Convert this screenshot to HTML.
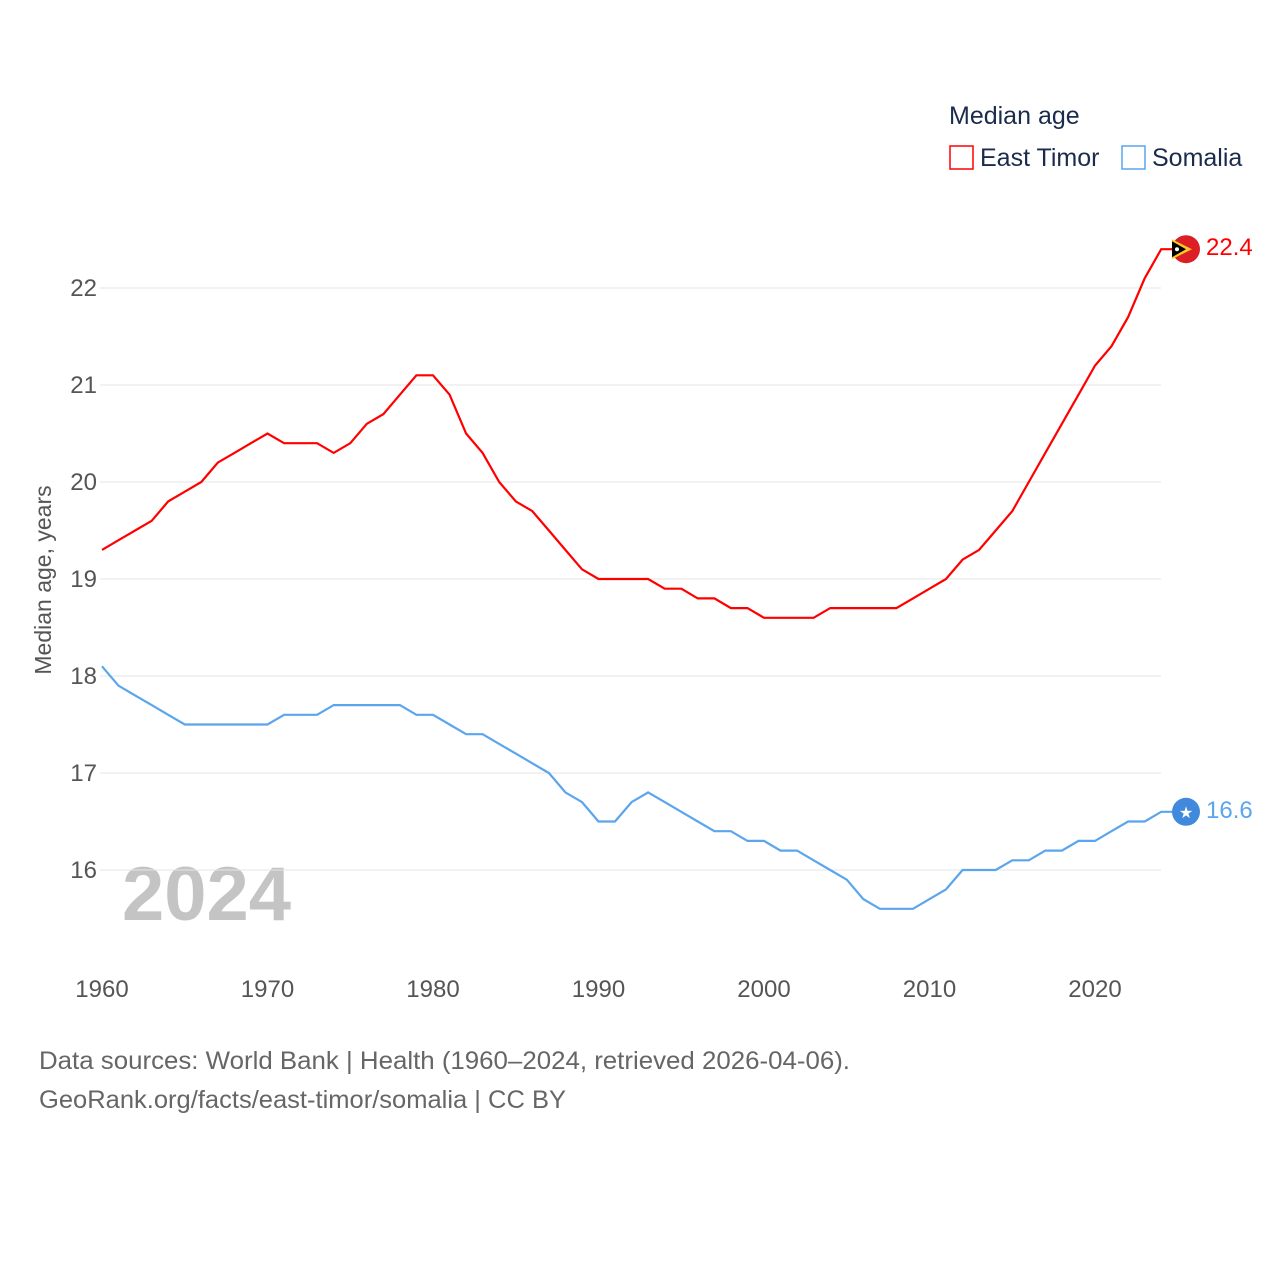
<!DOCTYPE html>
<html><head><meta charset="utf-8"><style>
body{margin:0;background:#fff;font-family:"Liberation Sans",sans-serif;}
svg text{font-family:"Liberation Sans",sans-serif;}
</style></head><body>
<svg id="chart" width="1280" height="1280" viewBox="0 0 1280 1280">
<text x="949" y="124" font-size="25" fill="#1a2b4c">Median age</text>
<rect x="950" y="146" width="23" height="23" fill="none" stroke="#ff0000" stroke-width="1.5"/>
<text x="980" y="166" font-size="25" fill="#1a2b4c">East Timor</text>
<rect x="1122" y="146" width="23" height="23" fill="none" stroke="#5aa5ee" stroke-width="1.5"/>
<text x="1152" y="166" font-size="25" fill="#1a2b4c">Somalia</text>
<text transform="translate(51,580) rotate(-90)" text-anchor="middle" font-size="23" fill="#555">Median age, years</text>
<text x="122" y="920" font-size="76" font-weight="bold" fill="#c4c4c4">2024</text>
<g id="grid"></g><g id="lines"></g>
<text x="39" y="1069" font-size="25" fill="#666" textLength="811" lengthAdjust="spacingAndGlyphs">Data sources: World Bank | Health (1960–2024, retrieved 2026-04-06).</text>
<text x="39" y="1108" font-size="25" fill="#666" textLength="527" lengthAdjust="spacingAndGlyphs">GeoRank.org/facts/east-timor/somalia | CC BY</text>
</svg>
<script>
const years=[];for(let y=1960;y<=2024;y++)years.push(y);
const eastTimor=[19.3,19.4,19.5,19.6,19.8,19.9,20.0,20.2,20.3,20.4,20.5,20.4,20.4,20.4,20.3,20.4,20.6,20.7,20.9,21.1,21.1,20.9,20.5,20.3,20.0,19.8,19.7,19.5,19.3,19.1,19.0,19.0,19.0,19.0,18.9,18.9,18.8,18.8,18.7,18.7,18.6,18.6,18.6,18.6,18.7,18.7,18.7,18.7,18.7,18.8,18.9,19.0,19.2,19.3,19.5,19.7,20.0,20.3,20.6,20.9,21.2,21.4,21.7,22.1,22.4];
const somalia=[18.1,17.9,17.8,17.7,17.6,17.5,17.5,17.5,17.5,17.5,17.5,17.6,17.6,17.6,17.7,17.7,17.7,17.7,17.7,17.6,17.6,17.5,17.4,17.4,17.3,17.2,17.1,17.0,16.8,16.7,16.5,16.5,16.7,16.8,16.7,16.6,16.5,16.4,16.4,16.3,16.3,16.2,16.2,16.1,16.0,15.9,15.7,15.6,15.6,15.6,15.7,15.8,16.0,16.0,16.0,16.1,16.1,16.2,16.2,16.3,16.3,16.4,16.5,16.5,16.6];
const yTicks=[16,17,18,19,20,21,22];
const xTicks=[1960,1970,1980,1990,2000,2010,2020];
const NS='http://www.w3.org/2000/svg';
const X=v=>102+(v-1960)*(1095-102)/60;
const Y=v=>870-(v-16)*97;
function mk(tag,attrs,parent){const e=document.createElementNS(NS,tag);for(const k in attrs)e.setAttribute(k,attrs[k]);parent.appendChild(e);return e;}
const grid=document.getElementById('grid'),lines=document.getElementById('lines');
yTicks.forEach(t=>{
 const l=mk('line',{x1:100,x2:1161,y1:Y(t),y2:Y(t),stroke:'#e6e6e6','stroke-width':1},grid);
 
 
 const tx=mk('text',{x:97,y:Y(t)+8,'text-anchor':'end','font-size':24,fill:'#555'},grid);tx.textContent=t;
 
 
});
xTicks.forEach(t=>{
 const tx=mk('text',{x:X(t),y:997,'text-anchor':'middle','font-size':24,fill:'#555'},grid);tx.textContent=t;
 
 
});
function series(vals,color,name,label){
 const d=vals.map((v,i)=>(i?'L':'M')+X(years[i]).toFixed(1)+','+Y(v).toFixed(1)).join('')+'H1176';
 const p=mk('path',{d:d,fill:'none',stroke:color,'stroke-width':2.2},lines);
 
 
 const last=vals[vals.length-1],cy=Y(last);
 const t=mk('text',{x:1206,y:cy+6,'font-size':24,fill:color},lines);t.textContent=label(last);
 
 
 return cy;
}
const cy1=series(eastTimor,'#ff0000','east-timor',v=>v.toFixed(1));
const cy2=series(somalia,'#5aa5ee','somalia',v=>v.toFixed(1));
const f1=mk('g',{},lines);


mk('circle',{cx:1186,cy:cy1,r:14,fill:'#dc1f26'},f1);
mk('path',{d:`M1172,${cy1-10}L1192,${cy1}L1172,${cy1+10}Z`,fill:'#ffc726'},f1);
mk('path',{d:`M1172,${cy1-8}L1186,${cy1}L1172,${cy1+8}Z`,fill:'#000'},f1);
mk('circle',{cx:1177,cy:cy1,r:2,fill:'#fff'},f1);
const f2=mk('g',{},lines);


mk('circle',{cx:1186,cy:cy2,r:14,fill:'#4189dd'},f2);
const st=mk('text',{x:1186,y:cy2+6,'text-anchor':'middle','font-size':16,fill:'#fff'},f2);st.textContent='★';
</script>
</body></html>
